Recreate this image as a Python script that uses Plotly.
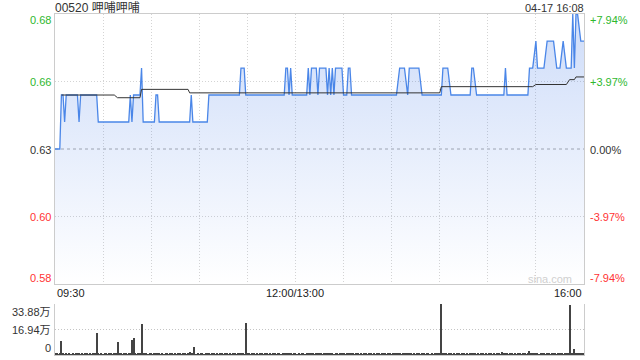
import plotly.graph_objects as go

# ---- data ----
TITLE = "00520 呷哺呷哺"
STAMP = "04-17 16:08"
PREV_CLOSE = 0.63
PCT_RANGE = 0.0794

# price vertices (minute index from 09:30, trading minutes, lunch removed)
P_MIN = [0, 3, 4, 5, 6, 7, 14, 15, 16, 26, 27, 46, 47, 48, 49, 53, 54, 55, 62, 63, 64, 65,
         84, 85, 86, 95, 96, 115, 116, 118, 119, 143, 144, 145, 146, 147, 148, 157, 158, 159,
         160, 163, 164, 165, 169, 170, 171, 172, 173, 174, 175, 179, 180, 182, 183, 184, 185,
         213, 215, 218, 220, 221, 227, 229, 241, 242, 245, 247, 259, 260, 261, 263, 280, 281,
         282, 295, 296, 298, 300, 301, 305, 307, 311, 313, 315, 317, 319, 322, 323, 324, 325,
         326, 328, 330]
P_VAL = [0.63, 0.63, 0.65, 0.65, 0.64, 0.65, 0.65, 0.64, 0.65, 0.65, 0.64, 0.64, 0.65, 0.64, 0.65,
         0.65, 0.66, 0.64, 0.64, 0.65, 0.65, 0.64, 0.64, 0.65, 0.64, 0.64, 0.65, 0.65, 0.66, 0.66,
         0.65, 0.65, 0.66, 0.66, 0.65, 0.66, 0.65, 0.65, 0.66, 0.65, 0.66, 0.66, 0.65, 0.66, 0.66,
         0.65, 0.66, 0.65, 0.66, 0.65, 0.66, 0.66, 0.65, 0.65, 0.66, 0.66, 0.65, 0.65, 0.66, 0.66,
         0.65, 0.66, 0.66, 0.65, 0.65, 0.66, 0.66, 0.65, 0.65, 0.66, 0.66, 0.65, 0.65, 0.66, 0.65,
         0.65, 0.66, 0.66, 0.67, 0.66, 0.66, 0.67, 0.67, 0.66, 0.66, 0.67, 0.66, 0.66, 0.68, 0.66,
         0.68, 0.68, 0.67, 0.67]

# average price vertices
A_MIN = [4, 37, 39, 53, 54, 83, 84, 240, 241, 298, 300, 319, 321, 324, 325, 330]
A_VAL = [0.6500, 0.6500, 0.6490, 0.6490, 0.6521, 0.6521, 0.6508, 0.6508, 0.6531, 0.6531,
         0.6539, 0.6539, 0.6557, 0.6557, 0.6567, 0.6567]

# volume per minute (万股)
VOLUME = [
    1.2, 0.8, 0.6, 1.0, 9.5, 0.8, 0.6, 1.0, 0.6, 0.8, 0.6, 1.0, 0.6, 0.8, 1.2, 1.0, 0.6, 0.8, 0.6, 1.0,
    0.8, 0.6, 1.0, 0.6, 0.8, 1.0, 14.4, 1.2, 0.6, 0.8,
    0.6, 1.0, 0.8, 0.6, 0.8, 1.0, 0.6, 0.8, 1.2, 8.8, 1.5, 0.8, 0.6, 1.0, 0.8, 0.6, 1.0, 1.2, 10.2, 11.5,
    0.8, 0.6, 1.0, 1.2, 20.5, 1.0, 1.0, 0.8, 0.6, 1.0,
    0.8, 0.6, 1.0, 1.3, 0.8, 1.0, 0.6, 0.8, 0.6, 1.0, 0.8, 0.6, 0.8, 1.0, 0.6, 0.8, 0.6, 1.0, 0.8, 0.6,
    1.0, 0.8, 0.6, 1.2, 2.0, 1.0, 0.8, 5.4, 0.6, 0.8,
    0.6, 1.0, 0.8, 0.6, 0.8, 1.0, 1.2, 0.6, 0.8, 1.0, 0.6, 0.8, 0.6, 1.0, 0.8, 0.6, 0.8, 1.0, 0.6, 0.8,
    0.6, 1.0, 0.8, 0.6, 0.8, 1.2, 1.0, 0.8, 0.6, 21.2,
    1.0, 0.8, 0.6, 0.8, 1.0, 0.6, 0.8, 0.6, 1.0, 0.8, 0.6, 0.8, 1.0, 0.6, 0.8, 0.6, 1.0, 0.8, 0.6, 0.8,
    1.0, 0.6, 0.8, 1.2, 1.0, 0.8, 1.0, 0.8, 0.6, 0.8,
    1.0, 0.6, 0.8, 0.6, 1.0, 0.8, 0.6, 1.2, 1.0, 0.8, 1.0, 0.8, 0.6, 1.0, 0.8, 1.2, 0.8, 0.6, 1.0, 0.8,
    1.0, 0.8, 1.0, 0.8, 0.6, 1.0, 0.8, 0.6, 0.8, 1.0,
    0.8, 0.6, 0.8, 1.0, 0.8, 1.4, 0.8, 0.6, 1.0, 0.8, 0.6, 0.8, 0.6, 1.0, 0.8, 0.6, 0.8, 1.0, 0.6, 0.8,
    0.6, 1.0, 0.8, 0.6, 0.8, 1.3, 0.8, 0.6, 0.8, 1.0,
    0.6, 0.8, 1.0, 1.2, 1.0, 0.8, 0.6, 0.8, 1.0, 0.8, 1.2, 1.0, 0.8, 0.6, 0.8, 0.6, 1.0, 0.8, 0.6, 1.2,
    0.8, 0.6, 0.8, 1.0, 0.6, 0.8, 0.6, 0.8, 1.0, 0.8,
    1.0, 33.88, 1.2, 0.8, 1.0, 0.6, 0.8, 1.0, 0.6, 0.8, 0.6, 1.0, 0.8, 0.6, 0.8, 1.0, 0.6, 0.8, 0.6, 1.0,
    1.2, 0.8, 1.0, 0.6, 0.8, 0.6, 1.0, 0.8, 0.6, 0.8,
    0.6, 0.8, 1.0, 0.6, 0.8, 0.6, 1.0, 0.8, 0.6, 2.2, 0.8, 1.2, 0.8, 0.6, 0.8, 1.0, 0.6, 0.8, 0.6, 1.0,
    0.8, 0.6, 0.8, 1.0, 0.6, 1.2, 2.7, 1.0, 0.8, 1.2,
    1.0, 0.8, 0.6, 0.8, 1.0, 0.8, 0.6, 1.0, 0.8, 0.6, 0.8, 1.0, 0.8, 0.6, 0.8, 1.0, 0.8, 0.6, 0.8, 1.0,
    0.8, 33.2, 1.2, 1.0, 4.3, 1.2, 1.0, 0.8, 1.0, 0.8, 1.0,
]
VOL_MAX = 33.88

PRICE_TICKS = ["0.68", "0.66", "0.63", "0.60", "0.58"]
PCT_TICKS = ["+7.94%", "+3.97%", "0.00%", "-3.97%", "-7.94%"]
TICK_COLORS = ["#2eb82e", "#2eb82e", "#333333", "#ff3333", "#ff3333"]
VOL_TICKS = ["33.88万", "16.94万", "0"]
TIME_LABELS = ["09:30", "12:00/13:00", "16:00"]
TIME_POS = [0, 150, 330]
GRID_MIN = [30, 60, 90, 120, 150, 180, 210, 240, 270, 300]

# ---- layout helpers ----
W, H = 640, 360
ML, MR, MT, MB = 55, 56, 14, 5
PLOT_H = H - MT - MB


def py(pix):
    return (H - MB - pix) / PLOT_H


FONT = "Liberation Sans, Arial, Noto Sans CJK SC, sans-serif"
lo = PREV_CLOSE * (1 - PCT_RANGE)
hi = PREV_CLOSE * (1 + PCT_RANGE)
mid_hi = PREV_CLOSE * (1 + PCT_RANGE / 2)
mid_lo = PREV_CLOSE * (1 - PCT_RANGE / 2)

fig = go.Figure()
fig.add_trace(go.Scatter(
    x=P_MIN, y=P_VAL, mode="lines",
    line=dict(color="#4a86e8", width=1.3),
    fill="tozeroy",
    fillgradient=dict(type="vertical",
                      colorscale=[[0, "rgba(50,110,230,0.0)"], [1, "rgba(50,110,230,0.24)"]],
                      start=lo, stop=hi),
    xaxis="x", yaxis="y", hoverinfo="skip"))
fig.add_trace(go.Scatter(
    x=A_MIN, y=A_VAL, mode="lines", line=dict(color="#333333", width=1),
    xaxis="x", yaxis="y", hoverinfo="skip"))
fig.add_trace(go.Bar(
    x=list(range(len(VOLUME))), y=VOLUME, width=0.65,
    marker=dict(color="#444444", line=dict(width=0)),
    xaxis="x2", yaxis="y2", hoverinfo="skip"))

price_top = 1.0
price_bot = py(284)
vol_top = py(304)

fig.update_layout(
    width=W, height=H, margin=dict(l=ML, r=MR, t=MT, b=MB),
    paper_bgcolor="white", plot_bgcolor="white", showlegend=False,
    bargap=0,
    xaxis=dict(domain=[0, 1], anchor="y", range=[0, 330], tickvals=GRID_MIN,
               showticklabels=False, ticks="", showgrid=True, gridcolor="#d4d4d4",
               griddash="1px,2px", gridwidth=1, zeroline=False,
               showline=True, linecolor="#cccccc", mirror=True),
    yaxis=dict(domain=[price_bot, price_top], anchor="x", range=[lo, hi],
               tickvals=[mid_lo, mid_hi], showticklabels=False, ticks="",
               showgrid=True, gridcolor="#d4d4d4", griddash="1px,2px", zeroline=False,
               showline=True, linecolor="#cccccc", mirror=True),
    xaxis2=dict(domain=[0, 1], anchor="y2", range=[0, 330], showticklabels=False,
                ticks="", showgrid=False, zeroline=False,
                showline=True, linecolor="#cccccc"),
    yaxis2=dict(domain=[0, vol_top], anchor="x2", range=[0, VOL_MAX],
                tickvals=[VOL_MAX / 2, VOL_MAX], showticklabels=False, ticks="",
                showgrid=True, gridcolor="#c4c4c4", griddash="1px,2px", zeroline=False,
                showline=True, linecolor="#cccccc", mirror=True),
)

fig.add_shape(type="line", xref="x", yref="y", x0=0, x1=330, y0=PREV_CLOSE, y1=PREV_CLOSE,
              line=dict(color="#aaaaaa", width=1, dash="3px,3px"), layer="below")

ann = []
label_pix = [20, 82, 150, 217, 278]
for t, p, c, yp in zip(PRICE_TICKS, PCT_TICKS, TICK_COLORS, label_pix):
    ann.append(dict(text=t, x=0, xref="paper", xanchor="right", xshift=-2,
                    y=py(yp), yref="paper", yanchor="middle", showarrow=False,
                    font=dict(family=FONT, size=11, color=c)))
    ann.append(dict(text=p, x=1, xref="paper", xanchor="left", xshift=4,
                    y=py(yp), yref="paper", yanchor="middle", showarrow=False,
                    font=dict(family=FONT, size=11, color=c)))
for t, yp in zip(VOL_TICKS, [312, 330, 348]):
    ann.append(dict(text=t, x=0, xref="paper", xanchor="right", xshift=-2,
                    y=py(yp), yref="paper", yanchor="middle", showarrow=False,
                    font=dict(family=FONT, size=11, color="#333333")))
for t, xp, xa in zip(TIME_LABELS, TIME_POS, ["left", "center", "right"]):
    ann.append(dict(text=t, x=xp, xref="x", xanchor=xa,
                    y=py(293), yref="paper", yanchor="middle", showarrow=False,
                    font=dict(family=FONT, size=11, color="#222222")))
ann.append(dict(text=TITLE, x=0, xref="paper", xanchor="left", xshift=-2,
                y=py(7.5), yref="paper", yanchor="middle", showarrow=False,
                font=dict(family=FONT, size=12, color="#333333")))
ann.append(dict(text=STAMP, x=1, xref="paper", xanchor="right", xshift=2,
                y=py(7.5), yref="paper", yanchor="middle", showarrow=False,
                font=dict(family=FONT, size=11, color="#333333")))
ann.append(dict(text="sina.com", x=1, xref="paper", xanchor="right", xshift=-10,
                y=py(279), yref="paper", yanchor="middle", showarrow=False,
                font=dict(family=FONT, size=11, color="#d0d0d0")))
fig.update_layout(annotations=ann)

fig.write_html("out.html")
